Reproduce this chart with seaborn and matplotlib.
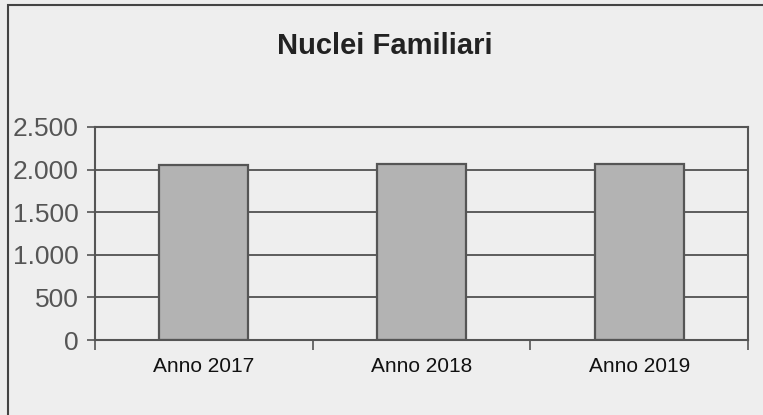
import numpy as np
import pandas as pd
import matplotlib
matplotlib.use("Agg")
import matplotlib.pyplot as plt
import seaborn as sns
from matplotlib.patches import Rectangle
from matplotlib.ticker import FuncFormatter

anni = ["Anno 2017", "Anno 2018", "Anno 2019"]
nuclei = [2055, 2065, 2065]

df = pd.DataFrame({"anno": anni, "nuclei": nuclei})

sns.set_theme(style="white")
plt.rcParams["font.family"] = ["Liberation Sans", "DejaVu Sans"]

fig = plt.figure(figsize=(7.63, 4.15), dpi=100)
fig.patch.set_facecolor("#eeeeee")
ax = fig.add_axes([95 / 763, 1 - 340 / 415, 653 / 763, 213 / 415])
ax.set_facecolor("#eeeeee")

sns.barplot(x="anno", y="nuclei", data=df, color="#b3b3b3", width=0.41,
            edgecolor="#555555", linewidth=1.6, saturation=1, ax=ax)

ax.set_ylim(0, 2500)
ax.set_xlim(-0.5, 2.5)
ax.set_yticks(np.arange(0, 2501, 500))
ax.yaxis.set_major_formatter(FuncFormatter(lambda v, p: f"{int(v):,}".replace(",", ".")))
ax.grid(axis="y", color="#444444", linewidth=1.2)
ax.set_axisbelow(True)

ax.set_xticks([-0.5, 0.5, 1.5, 2.5], minor=True)
ax.tick_params(axis="x", which="major", bottom=True, length=0, pad=12, labelsize=15, labelcolor="#111111")
ax.tick_params(axis="x", which="minor", bottom=True, length=7, width=1.2, color="#555555", direction="out")
ax.tick_params(axis="y", left=True, length=6, width=1.2, color="#555555", labelsize=19,
               labelcolor="#555555", pad=6)

for s in ax.spines.values():
    s.set_color("#555555")
    s.set_linewidth(1.5)

ax.set_xlabel("")
ax.set_ylabel("")

fig.text(385 / 763, 1 - 46 / 415, "Nuclei Familiari", ha="center", va="center",
         fontsize=21, fontweight="bold", color="#222222")

fig.patches.append(Rectangle((8 / 763, -0.05), 1.1, 1 - 5 / 415 + 0.05,
                             transform=fig.transFigure, fill=False,
                             edgecolor="#444444", linewidth=1.5))

fig.savefig("out.png", dpi=100, facecolor=fig.get_facecolor())
